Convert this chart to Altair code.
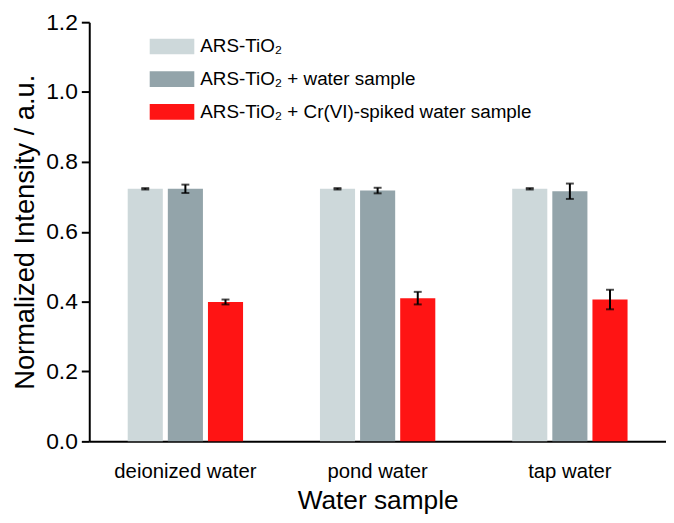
import altair as alt
import pandas as pd

samples = ["deionized water", "pond water", "tap water"]
series = ["ARS-TiO₂", "ARS-TiO₂ + water sample", "ARS-TiO₂ + Cr(VI)-spiked water sample"]
colors = ["#CDD8DA", "#93A4AA", "#FF1414"]

values_ars = [0.723, 0.723, 0.723]
values_water = [0.723, 0.718, 0.716]
values_cr = [0.399, 0.410, 0.406]
err_ars = [0.002, 0.002, 0.002]
err_water = [0.012, 0.008, 0.022]
err_cr = [0.007, 0.018, 0.028]

rows = []
for vals, errs, s in [(values_ars, err_ars, series[0]),
                      (values_water, err_water, series[1]),
                      (values_cr, err_cr, series[2])]:
    for samp, v, e in zip(samples, vals, errs):
        rows.append({"sample": samp, "series": s, "value": v, "lo": v - e, "hi": v + e})
df = pd.DataFrame(rows)

FONT = "Liberation Sans"

x_enc = alt.X("sample:N", sort=samples,
              scale=alt.Scale(paddingInner=0.4, paddingOuter=0.2),
              axis=alt.Axis(title="Water sample", ticks=False, labelAngle=0,
                            labelFontSize=20.5, labelPadding=20, titleFontSize=26.5,
                            titlePadding=6, domainWidth=2, domainColor="black",
                            labelColor="black", titleColor="black",
                            titleFontWeight="normal", labelFont=FONT, titleFont=FONT))
xoff = alt.XOffset("series:N", sort=series, scale=alt.Scale(paddingInner=0.125, paddingOuter=0))

y_scale = alt.Scale(domain=[0, 1.2], nice=False)
y_axis = alt.Axis(title="Normalized Intensity / a.u.",
                  values=[round(i * 0.1, 1) for i in range(13)],
                  labelExpr="round(datum.value*10) % 2 == 0 ? format(datum.value, '.1f') : ''",
                  tickSize={"condition": {"test": "round(datum.value*10) % 2 == 0", "value": 8}, "value": 4},
                  tickWidth=2, domainWidth=2, domainColor="black", tickColor="black",
                  labelFontSize=23, labelPadding=4, labelOverlap=False, grid=False,
                  titleFontSize=27.5, titleX=-50, labelColor="black", titleColor="black",
                  titleFontWeight="normal", labelFont=FONT, titleFont=FONT)

bars = alt.Chart(df).mark_bar().encode(
    x=x_enc,
    xOffset=xoff,
    y=alt.Y("value:Q", scale=y_scale, axis=y_axis),
    color=alt.Color("series:N", sort=series,
                    scale=alt.Scale(domain=series, range=colors),
                    legend=alt.Legend(title=None, orient="none", legendX=61, legendY=2,
                                      symbolType="M-1,-0.35H1V0.35H-1Z", symbolSize=2025,
                                      symbolStrokeWidth=0, symbolOpacity=1,
                                      labelFontSize=19, labelFont=FONT, labelColor="black",
                                      labelOffset=6, rowPadding=0, padding=0,
                                      labelLimit=500)),
)

rules = alt.Chart(df).mark_rule(color="black", strokeWidth=2).encode(
    x=alt.X("sample:N", sort=samples), xOffset=xoff,
    y=alt.Y("lo:Q", scale=y_scale), y2="hi:Q")

caps_lo = alt.Chart(df).mark_tick(color="black", size=8, thickness=2).encode(
    x=alt.X("sample:N", sort=samples), xOffset=xoff, y=alt.Y("lo:Q", scale=y_scale))
caps_hi = alt.Chart(df).mark_tick(color="black", size=8, thickness=2).encode(
    x=alt.X("sample:N", sort=samples), xOffset=xoff, y=alt.Y("hi:Q", scale=y_scale))

chart = alt.layer(bars, rules, caps_lo, caps_hi).properties(
    width=582, height=423,
    autosize=alt.AutoSizeParams(type="none"),
    padding={"left": 82, "top": 12, "right": 0, "bottom": 72},
).configure(font=FONT).configure_view(stroke=None)

chart.save("out.html", embed_options={"renderer": "svg", "actions": False})
